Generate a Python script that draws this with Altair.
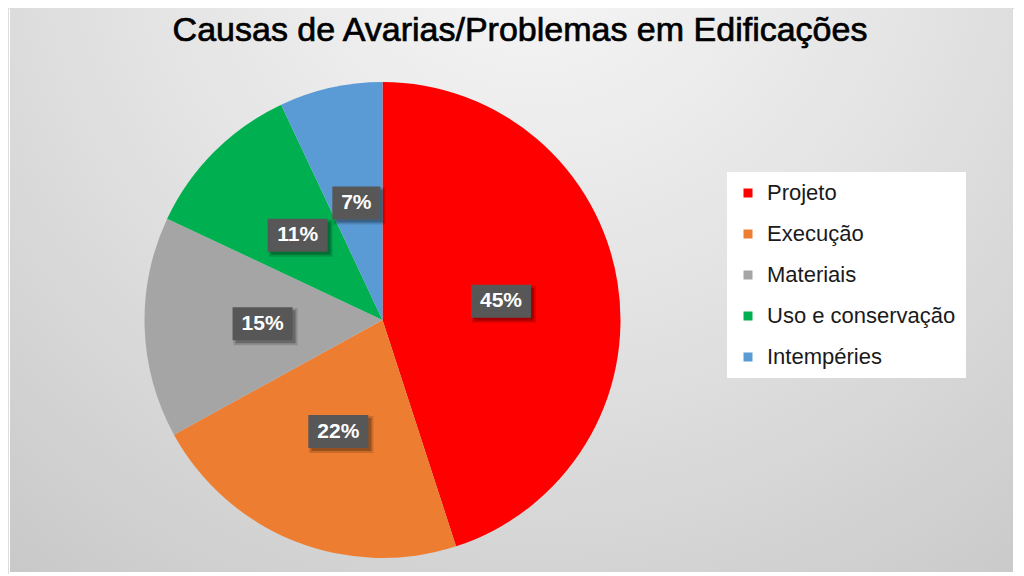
import altair as alt
import pandas as pd

categories = ["Projeto", "Execução", "Materiais", "Uso e conservação", "Intempéries"]
values = [45, 22, 15, 11, 7]
colors = ["#FF0000", "#ED7D31", "#A5A5A5", "#00B050", "#5B9BD5"]
title_text = ["Causas de Avarias/Problemas em Edificações"]

W, H = 1006, 566
CX, CY, R, LR = 374.5, 312, 238, 120

df = pd.DataFrame({"categoria": categories, "valor": values,
                   "ordem": list(range(len(categories)))})
base = alt.Chart(df)

bg = alt.Chart(pd.DataFrame({"k": [0]})).mark_rect(
    fill={"gradient": "radial", "x1": 0.52, "y1": 0.12, "r1": 0,
          "x2": 0.52, "y2": 0.12, "r2": 0.95,
          "stops": [{"offset": 0, "color": "#f8f8f8"},
                    {"offset": 0.45, "color": "#e2e2e2"},
                    {"offset": 1, "color": "#c2c2c2"}]}
).encode(x=alt.value(2), x2=alt.value(1005), y=alt.value(0), y2=alt.value(564))

color_scale = alt.Scale(domain=categories, range=colors)

pie = base.mark_arc(outerRadius=R).encode(
    theta=alt.Theta("valor:Q", stack=True),
    color=alt.Color("categoria:N", scale=color_scale, sort=categories,
                    legend=alt.Legend(title=None, orient="none", legendX=719, legendY=164,
                                      fillColor="white", padding=10, symbolType="square",
                                      symbolSize=81, symbolStrokeWidth=0,
                                      labelFontSize=22, labelFont="Liberation Sans",
                                      labelColor="#1a1a1a", rowPadding=19, labelOffset=8,
                                      labelLimit=400)),
    order=alt.Order("ordem:Q"),
    x=alt.value(CX), y=alt.value(CY),
)

lab = base.transform_joinaggregate(total="sum(valor)").transform_window(
    cum="sum(valor)", sort=[alt.SortField("ordem")], frame=[None, 0]
).transform_calculate(
    ang="(datum.cum - datum.valor/2)/datum.total*2*PI",
    lx=f"{CX} + {LR}*sin(datum.ang)",
    ly=f"{CY} - {LR}*cos(datum.ang)",
    label="datum.valor + '%'",
).transform_calculate(
    bw="12*length(datum.label)+24",
).transform_calculate(
    bx1="datum.lx - datum.bw/2", bx2="datum.lx + datum.bw/2",
    by1="datum.ly - 16.5", by2="datum.ly + 16.5",
    sx1="datum.lx - datum.bw/2 + 3", sx2="datum.lx + datum.bw/2 + 3",
    sy1="datum.ly - 16.5 + 3", sy2="datum.ly + 16.5 + 3",
    tx1="datum.lx - datum.bw/2 + 1", tx2="datum.lx + datum.bw/2 + 5",
    ty1="datum.ly - 16.5 + 1", ty2="datum.ly + 16.5 + 5",
)

shadow_soft = lab.mark_rect(color="#000000", opacity=0.15).encode(
    x=alt.X("tx1:Q", scale=None, axis=None), x2="tx2:Q",
    y=alt.Y("ty1:Q", scale=None, axis=None), y2="ty2:Q")
shadow = lab.mark_rect(color="#000000", opacity=0.25).encode(
    x=alt.X("sx1:Q", scale=None, axis=None), x2="sx2:Q",
    y=alt.Y("sy1:Q", scale=None, axis=None), y2="sy2:Q")
box = lab.mark_rect(color="#575757").encode(
    x=alt.X("bx1:Q", scale=None, axis=None), x2="bx2:Q",
    y=alt.Y("by1:Q", scale=None, axis=None), y2="by2:Q")
txt = lab.mark_text(color="white", fontWeight="bold", fontSize=21, font="Liberation Sans",
                    align="center", baseline="middle").encode(
    x=alt.X("lx:Q", scale=None, axis=None), y=alt.Y("ly:Q", scale=None, axis=None),
    text="label:N")

title = alt.Chart(pd.DataFrame({"t": title_text})).mark_text(
    fontSize=34, font="Liberation Sans", color="#000000", align="center",
    baseline="alphabetic", stroke="#000000", strokeWidth=0.7
).encode(x=alt.value(512), y=alt.value(33), text="t:N")

chart = alt.layer(bg, pie, shadow_soft, shadow, box, txt, title).properties(
    width=W, height=H, autosize="none", padding=0
).configure_view(strokeWidth=0).configure(background="white")

chart.save("out.html", embed_options={"renderer": "svg", "actions": False})
